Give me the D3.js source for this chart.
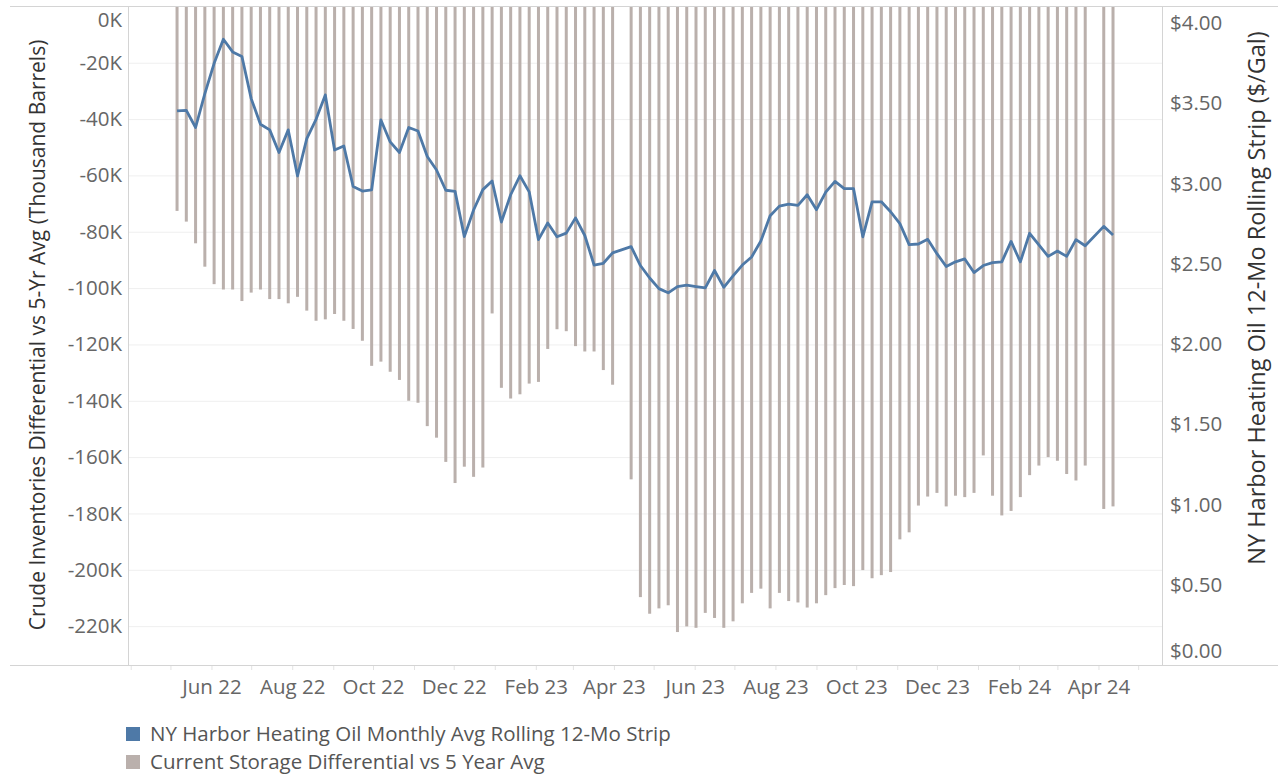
<!DOCTYPE html>
<html>
<meta charset="utf-8">
<style>
    body {
        margin: 0;
        background: #fff;
        font-family: "Open Sans", sans-serif;
    }
    .tick text {
        fill: #666;
        font-family: "Open Sans", sans-serif;
        font-size: 20.5px;
    }
    .title {
        fill: #333;
        font-size: 21px;
    }
    .legend text {
        fill: #555;
        font-size: 20.5px;
    }
</style>
<body>
<svg id="chart" width="1278" height="775"></svg>
<script src="https://cdn.jsdelivr.net/npm/d3@7"></script>
<script>
// weekly dates (Good Friday weeks missing in source)
var weeks = [
    "2022-05-06","2022-05-13","2022-05-20","2022-05-27","2022-06-03","2022-06-10","2022-06-17","2022-06-24",
    "2022-07-01","2022-07-08","2022-07-15","2022-07-22","2022-07-29","2022-08-05","2022-08-12","2022-08-19",
    "2022-08-26","2022-09-02","2022-09-09","2022-09-16","2022-09-23","2022-09-30","2022-10-07","2022-10-14",
    "2022-10-21","2022-10-28","2022-11-04","2022-11-11","2022-11-18","2022-11-25","2022-12-02","2022-12-09",
    "2022-12-16","2022-12-23","2022-12-30","2023-01-06","2023-01-13","2023-01-20","2023-01-27","2023-02-03",
    "2023-02-10","2023-02-17","2023-02-24","2023-03-03","2023-03-10","2023-03-17","2023-03-24","2023-03-31",
    "2023-04-14","2023-04-21","2023-04-28","2023-05-05","2023-05-12","2023-05-19","2023-05-26","2023-06-02",
    "2023-06-09","2023-06-16","2023-06-23","2023-06-30","2023-07-07","2023-07-14","2023-07-21","2023-07-28",
    "2023-08-04","2023-08-11","2023-08-18","2023-08-25","2023-09-01","2023-09-08","2023-09-15","2023-09-22",
    "2023-09-29","2023-10-06","2023-10-13","2023-10-20","2023-10-27","2023-11-03","2023-11-10","2023-11-17",
    "2023-11-24","2023-12-01","2023-12-08","2023-12-15","2023-12-22","2023-12-29","2024-01-05","2024-01-12",
    "2024-01-19","2024-01-26","2024-02-02","2024-02-09","2024-02-16","2024-02-23","2024-03-01","2024-03-08",
    "2024-03-15","2024-03-22","2024-04-05","2024-04-12"
];

// Current Storage Differential vs 5 Year Avg (thousand barrels)
var storageDiff = [
    -72.6,-76.4,-84.1,-92.4,-98.6,-100.5,-100.5,-104.6,
    -101.6,-100.5,-103.9,-103.9,-105.4,-103.1,-108.0,-111.6,
    -111.1,-109.2,-111.6,-114.5,-118.7,-127.6,-126.1,-129.7,
    -132.6,-140.0,-140.7,-149.0,-153.1,-161.7,-169.2,-163.4,
    -167.0,-163.7,-109.0,-135.4,-139.2,-137.7,-133.9,-133.3,
    -121.6,-114.6,-115.3,-120.6,-122.5,-122.5,-129.1,-134.3,
    -167.9,-209.7,-215.6,-213.7,-212.6,-222.1,-220.1,-220.6,
    -215.3,-217.1,-220.6,-218.3,-211.9,-208.2,-206.7,-213.7,
    -208.2,-211.1,-211.6,-213.4,-211.9,-209.0,-206.5,-205.4,
    -205.8,-200.1,-203.0,-201.9,-200.8,-189.2,-186.7,-177.2,
    -174.0,-172.7,-177.5,-173.7,-174.2,-172.7,-159.4,-173.7,
    -180.7,-179.1,-174.2,-166.4,-163.0,-160.0,-161.3,-166.0,
    -168.3,-163.0,-178.4,-177.5
];

// NY Harbor Heating Oil Monthly Avg Rolling 12-Mo Strip ($/gal)
var heatingOil = [
    3.452,3.456,3.349,3.560,3.749,3.899,3.820,3.791,
    3.529,3.369,3.334,3.193,3.334,3.047,3.280,3.400,
    3.552,3.209,3.234,2.981,2.953,2.960,3.396,3.259,
    3.193,3.349,3.327,3.168,3.084,2.958,2.951,2.669,
    2.835,2.962,3.016,2.760,2.930,3.048,2.948,2.650,
    2.754,2.668,2.691,2.786,2.676,2.492,2.503,2.568,
    2.607,2.489,2.411,2.345,2.319,2.358,2.367,2.358,
    2.350,2.458,2.353,2.424,2.492,2.542,2.642,2.799,
    2.859,2.872,2.864,2.930,2.837,2.946,3.013,2.968,
    2.968,2.668,2.886,2.886,2.824,2.750,2.619,2.623,
    2.652,2.563,2.483,2.512,2.530,2.445,2.489,2.507,
    2.512,2.639,2.512,2.690,2.617,2.546,2.579,2.546,
    2.650,2.612,2.733,2.679
];

var leftTicks = [0,-20,-40,-60,-80,-100,-120,-140,-160,-180,-200,-220];
var rightTicks = [0,0.5,1,1.5,2,2.5,3,3.5,4];
var monthLabels = ["2022-06","2022-08","2022-10","2022-12","2023-02","2023-04",
                   "2023-06","2023-08","2023-10","2023-12","2024-02","2024-04"];

var legendItems = [
    {label: "NY Harbor Heating Oil Monthly Avg Rolling 12-Mo Strip", color: "#4e79a7"},
    {label: "Current Storage Differential vs 5 Year Avg", color: "#bab0ac"}
];

var parseDay = d3.timeParse("%Y-%m-%d"),
    parseMonth = d3.timeParse("%Y-%m");

var data = weeks.map(function(w, i) {
    return {date: parseDay(w), storage: storageDiff[i], oil: heatingOil[i]};
});

var plotLeft = 129, plotRight = 1162, plotTop = 6, plotBottom = 665;

var svg = d3.select("#chart");

var x = d3.scaleTime()
    .domain([new Date(2022, 2, 30, 17), new Date(2024, 4, 19)])
    .range([plotLeft, plotRight]);

var yL = d3.scaleLinear().domain([-233.8, 0]).range([plotBottom, plotTop + 0.4]);
var yR = d3.scaleLinear().domain([0, 4.106]).range([plotBottom, plotTop]);

// gridlines
svg.append("g")
    .attr("transform", "translate(" + plotLeft + ",0)")
    .call(d3.axisLeft(yL).tickValues(leftTicks.slice(1)).tickSize(-(plotRight - plotLeft)).tickFormat(""))
    .call(function(g) { g.select(".domain").remove(); })
    .selectAll("line").attr("stroke", "#efefef");

// bars
svg.append("g").selectAll("rect")
    .data(data)
    .enter()
    .append("rect")
    .attr("x", function(d) { return x(d.date) - 1.5; })
    .attr("y", yL(0))
    .attr("width", 3)
    .attr("height", function(d) { return yL(d.storage) - yL(0); })
    .attr("fill", "#bab0ac");

// line
var line = d3.line()
    .x(function(d) { return x(d.date); })
    .y(function(d) { return yR(d.oil); });

svg.append("path")
    .datum(data)
    .attr("d", line)
    .attr("fill", "none")
    .attr("stroke", "#4e79a7")
    .attr("stroke-width", 2.8)
    .attr("stroke-linejoin", "round");

// frame lines
var frame = svg.append("g").attr("stroke", "#d4d4d4").attr("stroke-width", 1);
frame.append("line").attr("x1", 10).attr("x2", 1278).attr("y1", plotTop + 0.5).attr("y2", plotTop + 0.5);
frame.append("line").attr("x1", 10).attr("x2", 1278).attr("y1", plotBottom + 0.5).attr("y2", plotBottom + 0.5);
frame.append("line").attr("x1", plotLeft - 0.5).attr("x2", plotLeft - 0.5).attr("y1", plotTop).attr("y2", plotBottom);
frame.append("line").attr("x1", plotRight + 0.5).attr("x2", plotRight + 0.5).attr("y1", plotTop).attr("y2", plotBottom);

// left axis
var gL = svg.append("g")
    .attr("transform", "translate(" + (plotLeft - 7) + ",0)")
    .call(d3.axisLeft(yL).tickValues(leftTicks).tickSize(0).tickPadding(0)
        .tickFormat(function(d) { return d + "K"; }));
gL.select(".domain").remove();
gL.selectAll(".tick").filter(function(d) { return d === 0; })
    .select("text").attr("dy", "0.98em");

// right axis
var gR = svg.append("g")
    .attr("transform", "translate(" + (plotRight + 8) + ",0)")
    .call(d3.axisRight(yR).tickValues(rightTicks).tickSize(0).tickPadding(0)
        .tickFormat(d3.format("$.2f")));
gR.select(".domain").remove();
gR.selectAll(".tick").filter(function(d) { return d === 0; })
    .select("text").attr("dy", "-0.35em");

// x axis: monthly minor ticks, bi-monthly labels
svg.append("g")
    .attr("transform", "translate(0," + (plotBottom + 1) + ")")
    .call(d3.axisBottom(x).ticks(d3.timeMonth.every(1)).tickSize(4).tickFormat(""))
    .call(function(g) {
        g.select(".domain").remove();
        g.selectAll("line").attr("stroke", "#e3e3e3");
    });

var gX = svg.append("g")
    .attr("transform", "translate(0," + (plotBottom + 14) + ")")
    .call(d3.axisBottom(x).tickValues(monthLabels.map(parseMonth)).tickSize(0).tickPadding(0)
        .tickFormat(d3.timeFormat("%b %y")));
gX.select(".domain").remove();

// axis titles
svg.append("text")
    .attr("class", "title")
    .attr("transform", "translate(45,335) rotate(-90)")
    .attr("text-anchor", "middle")
    .text("Crude Inventories Differential vs 5-Yr Avg (Thousand Barrels)");

svg.append("text")
    .attr("class", "title")
    .attr("transform", "translate(1265,298) rotate(-90)")
    .attr("text-anchor", "middle")
    .style("font-size", "23.5px")
    .text("NY Harbor Heating Oil 12-Mo Rolling Strip ($/Gal)");

// legend
var legend = svg.append("g").attr("class", "legend");
var item = legend.selectAll("g")
    .data(legendItems)
    .enter()
    .append("g")
    .attr("transform", function(d, i) { return "translate(126," + (727 + i * 28) + ")"; });
item.append("rect")
    .attr("width", 14)
    .attr("height", 14)
    .attr("fill", function(d) { return d.color; });
item.append("text")
    .attr("x", 24)
    .attr("y", 7)
    .attr("dy", "0.35em")
    .text(function(d) { return d.label; });
</script>
</body>
</html>
